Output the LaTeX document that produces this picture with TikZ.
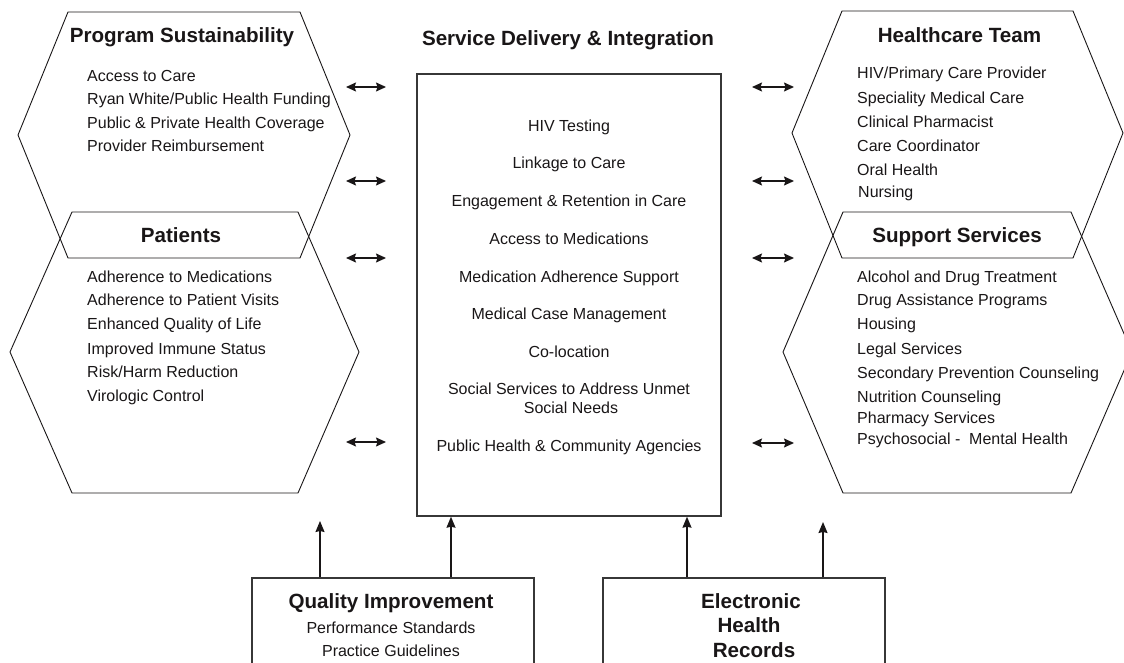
\documentclass[tikz,border=0pt]{standalone}
\usepackage{fontspec}
\setmainfont{Liberation Sans}
\usetikzlibrary{arrows.meta}
\definecolor{ink}{RGB}{25,22,23}
\definecolor{boxink}{RGB}{55,55,55}
\begin{document}
\begin{tikzpicture}[x=1pt,y=-1pt,
  hexline/.style={draw=ink,line width=0.9pt,line join=miter},
  boxline/.style={draw=boxink,line width=1.4pt,inner sep=0pt},
  item/.style={anchor=base west,inner sep=0pt,font=\fontsize{16}{19}\selectfont,text=ink},
  citem/.style={anchor=base,inner sep=0pt,font=\fontsize{16}{19}\selectfont,text=ink},
  head/.style={anchor=base,inner sep=0pt,font=\fontsize{20.6}{24}\selectfont\bfseries,text=ink},
  dbl/.style={{Stealth[length=10pt,width=9pt,inset=1.5pt]}-{Stealth[length=10pt,width=9pt,inset=1.5pt]},draw=ink,line width=1.4pt},
  uparrow/.style={-{Stealth[length=11pt,width=9pt,inset=1pt]},draw=ink,line width=1.3pt}]
\useasboundingbox (0,0) rectangle (1124,663);
\clip (0,0) rectangle (1124,663);

% hexagons
\draw[hexline] (68,12) -- (300,12) -- (350,135) -- (300,258) -- (68,258) -- (18,135) -- cycle;
\draw[hexline] (72,212) -- (298,212) -- (359,352) -- (298,493) -- (72,493) -- (10,352) -- cycle;
\draw[hexline] (842,11) -- (1073,11) -- (1123,133) -- (1073,258) -- (842,258) -- (792,133) -- cycle;
\draw[hexline] (843,212) -- (1071,212) -- (1132,352) -- (1071,493) -- (843,493) -- (783,352) -- cycle;

% titles
\node[head] (psT) at (182,43) {Program Sustainability};
\node[head] (paT) at (181,242) {Patients};
\node[head] (htT) at (959.5,43) {Healthcare Team};
\node[head] (ssT) at (957,242) {Support Services};
\node[head] (sdT) at (568,46) {Service Delivery \& Integration};

% Program Sustainability items
\node[item] (ps1) at (87,82) {Access to Care};
\node[item] (ps2) at (87,105) {Ryan White/Public Health Funding};
\node[item] (ps3) at (87,129) {Public \& Private Health Coverage};
\node[item] (ps4) at (87,152) {Provider Reimbursement};

% Patients items
\node[item] (pa1) at (87,282) {Adherence to Medications};
\node[item] (pa2) at (87,305) {Adherence to Patient Visits};
\node[item] (pa3) at (87,329) {Enhanced Quality of Life};
\node[item] (pa4) at (87,354) {Improved Immune Status};
\node[item] (pa5) at (87,377) {Risk/Harm Reduction};
\node[item] (pa6) at (87,401) {Virologic Control};

% Healthcare Team items
\node[item] (ht1) at (857,79) {HIV/Primary Care Provider};
\node[item] (ht2) at (857,104) {Speciality Medical Care};
\node[item] (ht3) at (857,128) {Clinical Pharmacist};
\node[item] (ht4) at (857,152) {Care Coordinator};
\node[item] (ht5) at (857,176) {Oral Health};
\node[item] (ht6) at (858,198) {Nursing};

% Support Services items
\node[item] (ss1) at (857,282) {Alcohol and Drug Treatment};
\node[item] (ss2) at (857,305) {Drug Assistance Programs};
\node[item] (ss3) at (857,329) {Housing};
\node[item] (ss4) at (857,354) {Legal Services};
\node[item] (ss5) at (857,378) {Secondary Prevention Counseling};
\node[item] (ss6) at (857,402) {Nutrition Counseling};
\node[item] (ss7) at (857,423) {Pharmacy Services};
\node[item] (ss8) at (857,444) {Psychosocial -\ \ Mental Health};

% central box
\node[boxline, minimum width=304pt, minimum height=442pt] (sdi) at (569,295) {};
\node[citem] (sd1) at (569,132) {HIV Testing};
\node[citem] (sd2) at (569,169) {Linkage to Care};
\node[citem] (sd3) at (569,207) {Engagement \& Retention in Care};
\node[citem] (sd4) at (569,244) {Access to Medications};
\node[citem] (sd5) at (569,282) {Medication Adherence Support};
\node[citem] (sd6) at (569,319) {Medical Case Management};
\node[citem] (sd7) at (569,357) {Co-location};
\node[citem] (sd8a) at (569,394) {Social Services to Address Unmet};
\node[citem] (sd8b) at (571,413) {Social Needs};
\node[citem] (sd9) at (569,451) {Public Health \& Community Agencies};

% double arrows
\coordinate (la1) at (346,87);  \coordinate (lb1) at (386,87);
\coordinate (la2) at (346,181); \coordinate (lb2) at (386,181);
\coordinate (la3) at (346,258); \coordinate (lb3) at (386,258);
\coordinate (la4) at (346,442); \coordinate (lb4) at (386,442);
\coordinate (ra1) at (752,87);  \coordinate (rb1) at (794,87);
\coordinate (ra2) at (752,181); \coordinate (rb2) at (794,181);
\coordinate (ra3) at (752,258); \coordinate (rb3) at (794,258);
\coordinate (ra4) at (752,443); \coordinate (rb4) at (794,443);
\foreach \i in {1,2,3,4}{
  \draw[dbl] (la\i) -- (lb\i);
  \draw[dbl] (ra\i) -- (rb\i);
}

% bottom boxes
\node[boxline, minimum width=282pt, minimum height=122pt] (qi) at (393,639) {};
\node[boxline, minimum width=282pt, minimum height=122pt] (ehr) at (744,639) {};
\node[head] (qiT) at (391,608) {Quality Improvement};
\node[citem] (qi1) at (391,633) {Performance Standards};
\node[citem] (qi2) at (391,656) {Practice Guidelines};
\node[head] (ehr1) at (751,608) {Electronic};
\node[head] (ehr2) at (749,632) {Health};
\node[head] (ehr3) at (754,657) {Records};

% upward arrows
\coordinate (qa) at (320,521);
\coordinate (qb) at (451,0);
\coordinate (ea) at (687,0);
\coordinate (eb) at (823,522);
\draw[uparrow] (qi.north -| qa) -- (qa);
\draw[uparrow] (qi.north -| qb) -- (sdi.south -| qb);
\draw[uparrow] (ehr.north -| ea) -- (sdi.south -| ea);
\draw[uparrow] (ehr.north -| eb) -- (eb);
\end{tikzpicture}
\end{document}
